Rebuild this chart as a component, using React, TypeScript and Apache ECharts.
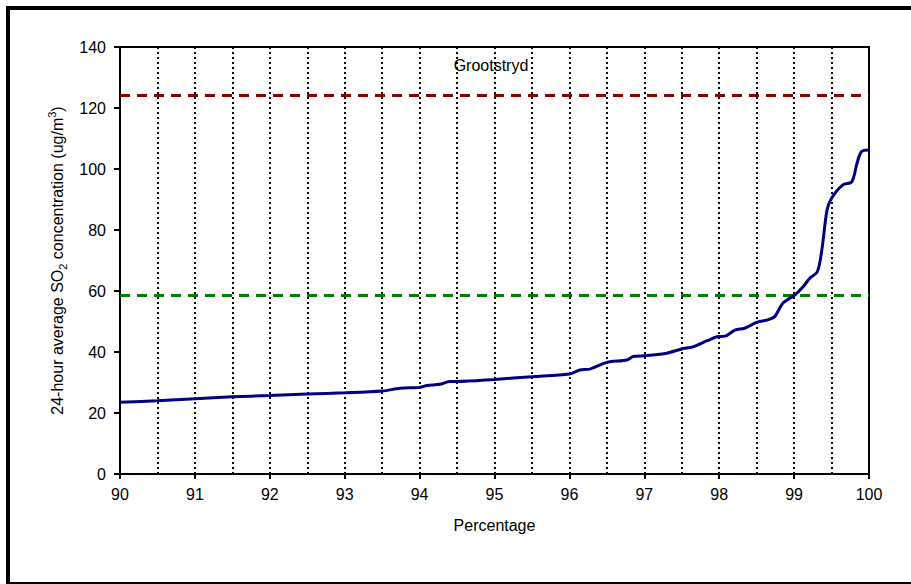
import React, { useEffect, useRef } from 'react';
import * as echarts from 'echarts';

// Cumulative percentage (x) and 24-hour average SO2 concentration (y)
const percentages = [
  90.0, 90.5, 91.0, 91.5, 92.0, 92.5, 93.0, 93.5, 93.74, 94.0, 94.1, 94.27, 94.4, 94.5,
  95.0, 95.5, 96.0, 96.14, 96.27, 96.5, 96.77, 96.85, 97.0, 97.3, 97.5, 97.65, 97.84,
  97.97, 98.08, 98.21, 98.34, 98.5, 98.64, 98.74, 98.85, 99.01, 99.12, 99.21, 99.31,
  99.37, 99.44, 99.5, 99.65, 99.77, 99.84, 99.9, 100.0,
];
const so2Values = [
  23.5, 24.0, 24.7, 25.3, 25.7, 26.2, 26.6, 27.2, 28.1, 28.4, 29.0, 29.4, 30.3, 30.3,
  31.0, 31.9, 32.8, 34.1, 34.4, 36.6, 37.4, 38.5, 38.8, 39.6, 41.0, 41.7, 43.7,
  45.0, 45.2, 47.2, 47.8, 49.7, 50.5, 51.6, 56.0, 58.7, 61.4, 64.2, 66.3,
  73.4, 86.6, 90.4, 94.8, 95.8, 101.9, 105.7, 106.2,
];

const upperLimit = 124.2; // dark red dashed line
const lowerLimit = 58.5; // green dashed line

const xMin = 90;
const xMax = 100;
const xInterval = 1;
const yMin = 0;
const yMax = 140;
const yInterval = 20;

const stationName = 'Grootstryd';
const xAxisTitle = 'Percentage';

const FONT = 'Liberation Sans, Arial, Helvetica, sans-serif';

export default function App() {
  const ref = useRef<HTMLDivElement>(null);

  useEffect(() => {
    if (!ref.current) return;
    const chart = echarts.init(ref.current, undefined, { renderer: 'svg' });
    const data = percentages.map((p, i) => [p, so2Values[i]]);
    const dotted = { color: '#000', width: 2, type: [2, 3] as number[] };

    chart.setOption({
      animation: false,
      backgroundColor: '#fff',
      textStyle: { fontFamily: FONT, color: '#000' },
      grid: {
        left: 120,
        right: 42,
        top: 47,
        bottom: 110,
        show: true,
        borderColor: '#000',
        borderWidth: 2,
        backgroundColor: 'transparent',
      },
      graphic: [
        {
          type: 'rect',
          shape: { x: 8, y: 8, width: 910, height: 576 },
          style: { fill: 'none', stroke: '#000', lineWidth: 4 },
          silent: true,
        },
        {
          type: 'text',
          x: 491,
          y: 65,
          style: {
            text: stationName,
            font: `16px ${FONT}`,
            fill: '#000',
            align: 'center',
            verticalAlign: 'middle',
            textAlign: 'center',
            textVerticalAlign: 'middle',
          },
          silent: true,
        },
      ],
      xAxis: {
        type: 'value',
        min: xMin,
        max: xMax,
        interval: xInterval,
        name: xAxisTitle,
        nameLocation: 'middle',
        nameGap: 43,
        nameTextStyle: { fontSize: 16, fontFamily: FONT, color: '#000' },
        axisLine: { show: true, onZero: false, lineStyle: { color: '#000', width: 2 } },
        axisTick: { show: true, length: 5, lineStyle: { color: '#000', width: 2 } },
        axisLabel: { fontSize: 16, color: '#000', margin: 12, fontFamily: FONT },
        splitLine: { show: true, lineStyle: dotted },
        minorTick: { show: false, splitNumber: 2 },
        minorSplitLine: { show: true, lineStyle: dotted },
      },
      yAxis: {
        type: 'value',
        min: yMin,
        max: yMax,
        interval: yInterval,
        name:
          '{a|24-hour average SO}{sub|2}{a| concentration (ug/m}{sup|3}{a|)}',
        nameLocation: 'middle',
        nameRotate: 90,
        nameGap: 48,
        nameTextStyle: {
          fontSize: 16,
          fontFamily: FONT,
          color: '#000',
          rich: {
            a: { fontSize: 16, fontFamily: FONT, color: '#000', lineHeight: 22 },
            sub: {
              fontSize: 11,
              fontFamily: FONT,
              color: '#000',
              lineHeight: 11,
              verticalAlign: 'bottom',
            },
            sup: {
              fontSize: 11,
              fontFamily: FONT,
              color: '#000',
              lineHeight: 11,
              verticalAlign: 'top',
            },
          },
        },
        axisLine: { show: true, lineStyle: { color: '#000', width: 2 } },
        axisTick: { show: true, length: 6, lineStyle: { color: '#000', width: 2 } },
        axisLabel: { fontSize: 16, color: '#000', margin: 14, fontFamily: FONT },
        splitLine: { show: false },
      },
      series: [
        {
          type: 'line',
          data,
          smooth: 0.3,
          showSymbol: false,
          symbol: 'none',
          lineStyle: { color: '#000080', width: 3 },
          z: 5,
          markLine: {
            silent: true,
            symbol: 'none',
            label: { show: false },
            data: [
              { yAxis: upperLimit, lineStyle: { color: '#8b0000', width: 3, type: [10, 7] } },
              { yAxis: lowerLimit, lineStyle: { color: '#008000', width: 3, type: [10, 7] } },
            ],
          },
        },
      ],
    });

    return () => chart.dispose();
  }, []);

  return (
    <div
      ref={ref}
      style={{ position: 'absolute', left: 0, top: 0, width: 911, height: 584 }}
    />
  );
}
